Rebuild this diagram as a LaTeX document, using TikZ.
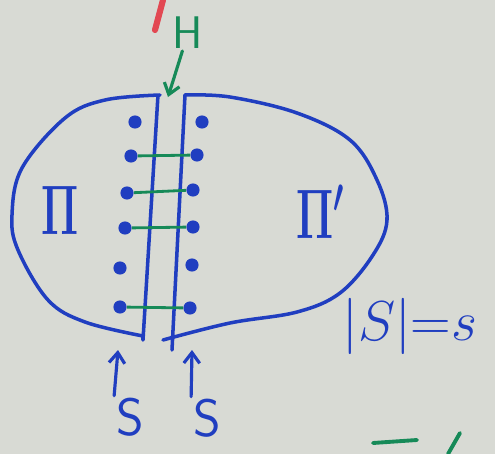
\RequirePackage{fix-cm}
\documentclass[tikz,border=0pt]{standalone}
\usetikzlibrary{arrows.meta, positioning}
\definecolor{inkblue}{RGB}{32,62,192}
\definecolor{inkgreen}{RGB}{22,138,88}
\definecolor{inkred}{RGB}{226,72,82}
\definecolor{board}{RGB}{216,218,212}

\begin{document}
\begin{tikzpicture}[x=0.02cm, y=-0.02cm,
  ink/.style={draw=inkblue, line width=2pt, line cap=round, line join=round},
  vtx/.style={circle, fill=inkblue, inner sep=0pt, minimum size=7.5pt},
  hedge/.style={draw=inkgreen, line width=1.6pt},
  barrow/.style={ink, line width=1.8pt, -{Straight Barb[length=6pt, width=9pt, line width=1.8pt]}},
  garrow/.style={draw=inkgreen, line width=1.8pt, line cap=round, -{Straight Barb[length=6pt, width=9pt, line width=1.8pt]}},
  lbl/.style={text=inkblue, inner sep=1pt},
  partlbl/.style={lbl, xscale=0.6, font=\fontsize{40}{40}\selectfont\boldmath},
]
\fill[board] (0,0) rectangle (495,454);
\useasboundingbox (0,0) rectangle (495,454);

% the two halves
\draw[ink] (158,95) -- (143,340) -- plot[smooth, tension=0.6] coordinates
  {(143,336) (85,322) (48,300) (18,250) (12,215) (22,168) (65,118) (105,100) (160,95)};
\draw[ink] (185,95) -- (172,350);
\draw[ink] plot[smooth, tension=0.6] coordinates
  {(163,340) (230,323) (297,312) (340,293) (373,255) (387,220) (377,180)
   (350,140) (297,113) (230,97) (185,95)};

% separator vertices
\foreach \i/\lx/\ly/\rx/\ry in {1/135/122/202/122, 2/131/156/197/155, 3/127/193/193/190,
                                4/125/228/193/227, 5/120/268/192/265, 6/120/307/190/308}{
  \node[vtx] (l\i) at (\lx,\ly) {};
  \node[vtx] (r\i) at (\rx,\ry) {};
}
\foreach \i in {2,3,4,6}
  \draw[hedge] (l\i) -- (r\i);

\node[partlbl] (pi) at (60,210) {$\Pi$};
\node[partlbl] (pip) at (320,212) {$\Pi'$};

% matching H
\node[text=inkgreen, font=\fontsize{26}{26}\selectfont\sffamily, inner sep=1pt] (h) at (188,33) {H};
\coordinate (htip) at (168,97);
\draw[garrow] (h) -- (htip);

% separators S
\node[lbl, font=\fontsize{30}{30}\selectfont\sffamily] (s1) at (130,417) {S};
\node[lbl, font=\fontsize{30}{30}\selectfont\sffamily] (s2) at (207,418) {S};
\coordinate (stip1) at (118,350);
\coordinate (stip2) at (192,350);
\draw[barrow] (s1.north west) -- (stip1);
\draw[barrow] (s2.north west) -- (stip2);

\node[lbl, font=\fontsize{32}{32}\selectfont] (size) at (410,326) {$|S|{=}s$};

% cut-off strokes at the edges
\draw[inkred, line width=3.5pt, line cap=round] (163,0) -- (155,30);
\draw[inkgreen, line width=2.2pt, line cap=round] (373,443) -- (417,440);
\draw[inkgreen, line width=2.2pt, line cap=round] (460,433) -- (448,454);
\end{tikzpicture}
\end{document}
